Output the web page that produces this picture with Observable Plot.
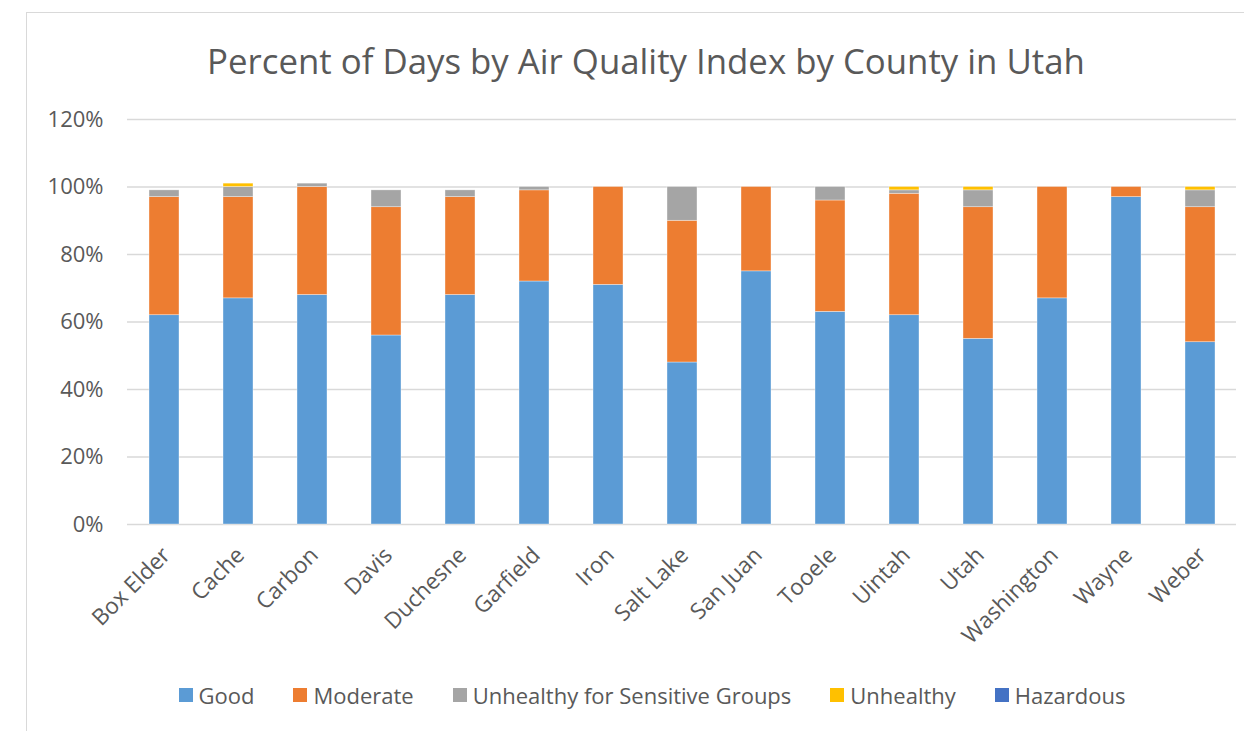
<!DOCTYPE html>
<html>
<head>
<meta charset="utf-8">
<script src="https://cdn.jsdelivr.net/npm/d3@7"></script>
<script src="https://cdn.jsdelivr.net/npm/@observablehq/plot@0.6"></script>
<style>
  html, body { margin: 0; padding: 0; background: #fff; }
  body { width: 1244px; height: 731px; overflow: hidden; position: relative; font-family: "Open Sans", sans-serif; }
  #frame { position: absolute; left: 26px; top: 12px; width: 1240px; height: 740px; border-left: 1.5px solid #d9d9d9; border-top: 1.5px solid #d9d9d9; box-sizing: border-box; }
  #title { position: absolute; left: 0; top: 0; width: 1244px; height: 100px; }
  #title div { position: absolute; left: 0; width: 1292px; top: 36px; text-align: center; font-size: 34.8px; color: #595959; line-height: 50px; }
  #chart { position: absolute; left: 0; top: 100px; }
  #legend { position: absolute; left: 0; top: 678px; width: 1244px; height: 34px; display: flex; justify-content: center; padding-left: 60px; box-sizing: border-box; gap: 39px; font-size: 22px; color: #595959; }
  #legend .item { display: flex; align-items: center; gap: 6px; }
  #legend .sw { width: 14px; height: 14px; display: inline-block; }
</style>
</head>
<body>
<div id="frame"></div>
<div id="title"><div>Percent of Days by Air Quality Index by County in Utah</div></div>
<div id="chart"></div>
<div id="legend"></div>
<script>
const counties = ["Box Elder","Cache","Carbon","Davis","Duchesne","Garfield","Iron","Salt Lake","San Juan","Tooele","Uintah","Utah","Washington","Wayne","Weber"];
const levels = ["Good","Moderate","Unhealthy for Sensitive Groups","Unhealthy","Hazardous"];
const colors = ["#5B9BD5","#ED7D31","#A5A5A5","#FFC000","#4472C4"];
const good      = [62, 67, 68, 56, 68, 72, 71, 48, 75, 63, 62, 55, 67, 97, 54];
const moderate  = [35, 30, 32, 38, 29, 27, 29, 42, 25, 33, 36, 39, 33,  3, 40];
const sensitive = [ 2,  3,  1,  5,  2,  1,  0, 10,  0,  4,  1,  5,  0,  0,  5];
const unhealthy = [ 0,  1,  0,  0,  0,  0,  0,  0,  0,  0,  1,  1,  0,  0,  1];
const hazardous = [ 0,  0,  0,  0,  0,  0,  0,  0,  0,  0,  0,  0,  0,  0,  0];
const yTicks = [0, 20, 40, 60, 80, 100, 120];

const series = [good, moderate, sensitive, unhealthy, hazardous];
const data = [];
counties.forEach((c, i) => {
  levels.forEach((l, j) => data.push({county: c, level: l, value: series[j][i]}));
});

const plot = Plot.plot({
  width: 1244,
  height: 560,
  marginTop: 19,
  marginBottom: 136,
  marginLeft: 127,
  marginRight: 8,
  style: { fontFamily: "Open Sans, sans-serif", fontSize: "22px", color: "#595959", background: "transparent" },
  x: { domain: counties, paddingInner: 0.6, paddingOuter: 0.29, align: 0.5, label: null },
  y: { domain: [0, 120], label: null },
  color: { domain: levels, range: colors },
  marks: [
    Plot.ruleY(yTicks, { stroke: "#d9d9d9", strokeWidth: 1.5 }),
    Plot.barY(data, { x: "county", y: "value", fill: "level", stroke: "#ffffff", strokeWidth: 0.6, strokeOpacity: 0.6 }),
    Plot.axisY({ ticks: yTicks, tickFormat: d => d + "%", tickSize: 0, tickPadding: 24, fontSize: 22, fill: "#595959", label: null }),
    Plot.axisX({ tickSize: 0, tickPadding: 27, tickRotate: -45, dx: 2, fontSize: 22.5, fill: "#595959", label: null })
  ]
});
document.getElementById("chart").appendChild(plot);

const legend = document.getElementById("legend");
levels.forEach((l, j) => {
  const it = document.createElement("div");
  it.className = "item";
  const sw = document.createElement("span");
  sw.className = "sw";
  sw.style.background = colors[j];
  const tx = document.createElement("span");
  tx.textContent = l;
  it.appendChild(sw); it.appendChild(tx);
  legend.appendChild(it);
});
</script>
</body>
</html>
